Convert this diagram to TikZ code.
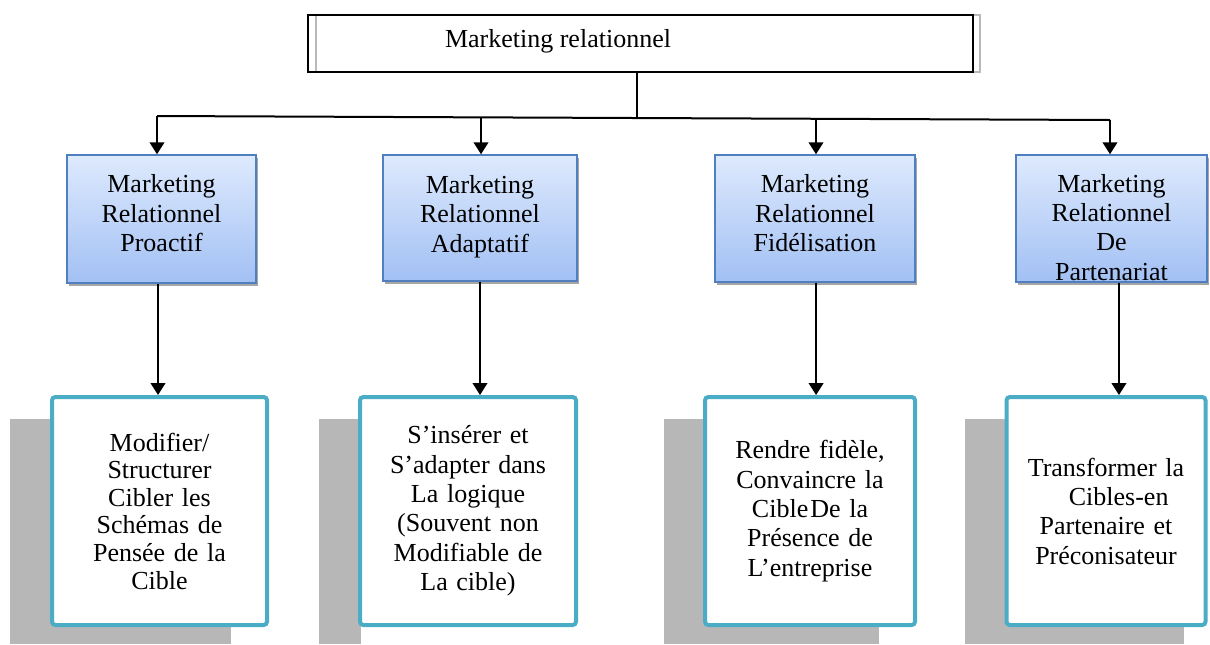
\documentclass[tikz,border=0pt]{standalone}
\usepackage{fontspec}
\setmainfont{Liberation Serif}
\usetikzlibrary{arrows.meta,shadows}
\definecolor{bluetop}{HTML}{DEEAFD}
\definecolor{bluebot}{HTML}{A2C0F4}
\definecolor{blueedge}{HTML}{4F7FBF}
\definecolor{tealedge}{HTML}{4BACC6}
\definecolor{shadowgrey}{HTML}{B7B7B7}

\begin{document}
\begin{tikzpicture}[x=0.75pt,y=-0.75pt,
  lbl/.style={font=\fontsize{19.5}{22}\selectfont},
  topbox/.style={draw=black,line width=0.8pt,minimum width=498.75pt,minimum height=42.75pt,inner sep=0pt},
  levelbox/.style={draw=blueedge,line width=1.1pt,top color=bluetop,bottom color=bluebot,inner sep=0pt,
    drop shadow={shadow xshift=1.5pt,shadow yshift=-2pt,fill=black,opacity=.35},
    font=\fontsize{19.5}{22}\selectfont},
  goalbox/.style={draw=tealedge,line width=3pt,rounded corners=2.5pt,fill=white,align=center,
    inner sep=0pt,text width=145pt,minimum height=171pt,font=\fontsize{19.5}{22}\selectfont},
  backing/.style={fill=shadowgrey},
  link/.style={line width=1.5pt},
  arr/.style={line width=1.5pt,-{Triangle[width=11pt,length=9pt]}}
]
\useasboundingbox (0,0) rectangle (1210,644);

% title box with its grey offset frame
\draw[gray!55,line width=0.8pt] (316,15) rectangle (980,72);
\node[topbox] (top) at (640.5,43.5) {};
\node[lbl,anchor=base] (toptext) at (558,47) {Marketing relationnel};

% four kinds of relationship marketing
\node[levelbox] (b1) at (161.5,219)
  {\parbox[c][96pt][t]{141.75pt}{\centering\vspace*{13pt}\strut Marketing\\Relationnel\\Proactif}};
\node[levelbox] (b2) at (480,218)
  {\parbox[c][94.5pt][t]{145.5pt}{\centering\vspace*{13.5pt}\strut Marketing\\Relationnel\\Adaptatif}};
\node[levelbox] (b3) at (815,218.5)
  {\parbox[c][95.25pt][t]{150pt}{\centering\vspace*{13pt}\strut Marketing\\Relationnel\\Fidélisation}};
\node[levelbox] (b4) at (1111.5,218.5)
  {\parbox[c][95.25pt][t]{143.25pt}{\centering\vspace*{12.4pt}\strut Marketing\\Relationnel\\De\\Partenariat}};

% grey backing panels behind the goal boxes
\fill[backing] (10,419) rectangle (231,644);
\fill[backing] (319,419) rectangle (361,644);
\fill[backing] (664,419) rectangle (879,644);
\fill[backing] (965,419) rectangle (1184,644);

% goal of each kind
\node[goalbox,minimum width=161.25pt,font=\fontsize{19.5}{20.7}\selectfont] (w1) at (159.5,511)
  {Modifier/\\Structurer\\Cibler les\\Schémas de\\Pensée de la\\Cible\\[-8pt]};
\node[goalbox,minimum width=162pt] (w2) at (468,511)
  {S’insérer et\\S’adapter dans\\La logique\\(Souvent non\\Modifiable de\\La cible)};
\node[goalbox,minimum width=157.5pt] (w3) at (810,511)
  {Rendre fidèle,\\Convaincre la\\Cible\hspace{1.5pt}De la\\Présence de\\L’entreprise};
\node[goalbox,minimum width=149.25pt] (w4) at (1106,511)
  {Transformer la\\\hspace*{19pt}Cibles-en\\Partenaire et\\Préconisateur};

% distribution bus from the title box
\coordinate (t1) at (157,116);
\coordinate (t2) at (481,117.4);
\coordinate (t3) at (816,118.8);
\coordinate (t4) at (1110,120);
\coordinate (hub) at (636.5,117.2);
\draw[link] (hub |- top.south) -- (hub);
\draw[link] (t1) -- (t4);
\draw[arr] (t1) -- (t1 |- b1.north);
\draw[arr] (t2) -- (t2 |- b2.north);
\draw[arr] (t3) -- (t3 |- b3.north);
\draw[arr] (t4) -- (t4 |- b4.north);

% from each kind down to its goal
\draw[arr] ([xshift=-2.6pt]b1.south) -- ([xshift=-2.6pt]b1.south |- w1.north);
\draw[arr] (b2.south) -- (b2.south |- w2.north);
\draw[arr] ([xshift=0.8pt]b3.south) -- ([xshift=0.8pt]b3.south |- w3.north);
\draw[arr] ([xshift=5.6pt]b4.south) -- ([xshift=5.6pt]b4.south |- w4.north);
\end{tikzpicture}
\end{document}
